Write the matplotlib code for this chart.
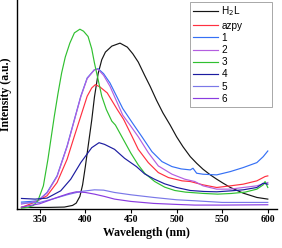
import matplotlib
matplotlib.use("Agg")
import matplotlib.pyplot as plt

# emission spectra (wavelength in nm, intensity in a.u.)
wl_h2l = [330, 360, 377, 386, 390, 394, 397, 400, 403, 407, 410, 414, 418, 422, 429, 438, 446, 452,
          458, 465, 471, 478, 485, 493, 500, 507, 515, 522, 529, 537, 544, 551, 559, 573, 588, 600]
h2l = [2, 2, 3, 8, 15, 35, 70, 125, 185, 265, 335, 405, 447, 470, 488, 497, 485, 465,
       440, 400, 367, 325, 287, 250, 215, 185, 155, 135, 117, 100, 87, 75, 62, 45, 32, 27]

wl_azpy = [330, 344, 358, 369, 380, 388, 395, 402, 407, 411, 416, 424, 435, 442, 451, 458, 469, 480,
           491, 506, 515, 529, 544, 559, 573, 588, 597, 600]
azpy = [2, 17, 37, 77, 147, 217, 277, 337, 362, 372, 365, 347, 297, 267, 217, 177, 137, 107,
        92, 82, 80, 70, 62, 67, 72, 82, 95, 97]

wl_1 = [330, 340, 348, 358, 369, 380, 388, 395, 402, 410, 414, 420, 427, 441, 452, 462, 473, 484,
        495, 505, 515, 518, 522, 529, 544, 559, 573, 588, 595, 600]
c1 = [18, 20, 22, 47, 97, 187, 267, 337, 392, 417, 420, 405, 377, 300, 255, 215, 170, 140,
      125, 118, 115, 120, 105, 102, 100, 110, 122, 137, 155, 172]

wl_2 = [330, 340, 348, 358, 369, 380, 388, 395, 402, 410, 414, 420, 427, 441, 449, 458, 469, 480,
        495, 509, 520, 529, 544, 559, 573, 588, 600]
c2 = [12, 17, 22, 45, 95, 185, 265, 335, 390, 417, 418, 400, 367, 280, 250, 215, 167, 127,
      102, 87, 80, 67, 57, 57, 62, 67, 77]

wl_3 = [330, 337, 343, 348, 354, 359, 366, 370, 374, 378, 383, 388, 394, 398, 403, 407, 410, 414,
        418, 423, 429, 433, 441, 450, 458, 465, 476, 487, 498, 510, 530, 545, 560, 575, 588, 595, 597, 600]
c3 = [0, 2, 8, 22, 67, 147, 277, 345, 407, 455, 497, 528, 539, 533, 517, 480, 437, 387,
      337, 297, 262, 250, 210, 165, 130, 105, 80, 63, 53, 48, 44, 42, 44, 48, 57, 70, 80, 62]

wl_4 = [330, 345, 358, 373, 384, 395, 407, 415, 421, 432, 443, 456, 465, 475, 487, 500, 515, 530,
        544, 560, 573, 588, 595, 600]
c4 = [29, 27, 30, 52, 87, 137, 182, 197, 192, 177, 150, 125, 103, 88, 73, 62, 53, 50,
      49, 52, 55, 62, 75, 72]

wl_5 = [330, 350, 365, 380, 395, 410, 420, 432, 450, 475, 500, 520, 550, 600]
c5 = [15, 17, 28, 40, 50, 55, 54, 47, 40, 32, 25, 22, 17, 17]

wl_6 = [330, 350, 370, 382, 390, 400, 410, 421, 432, 450, 475, 500, 520, 550, 600]
c6 = [3, 13, 33, 44, 49, 47, 42, 35, 27, 20, 14, 11, 9, 9, 10]

labels = ["H$_2$L", "azpy", "1", "2", "3", "4", "5", "6"]
colors = ["#151515", "#ff3040", "#3570f5", "#b45ee0", "#30c030", "#1c1ca0", "#7a78e8", "#8a3ce0"]
series = [(wl_h2l, h2l), (wl_azpy, azpy), (wl_1, c1), (wl_2, c2),
          (wl_3, c3), (wl_4, c4), (wl_5, c5), (wl_6, c6)]

fig = plt.figure(figsize=(2.82, 2.48), dpi=100)
ax = fig.add_axes([0.06, 0.157, 0.922, 0.843])

for (x, y), lab, col in zip(series, labels, colors):
    ax.plot(x, y, color=col, lw=0.85, label=lab)

ax.set_xlim(325, 610)
ax.set_ylim(-3, 627)
ax.set_xticks([350, 400, 450, 500, 550, 600])
ax.set_yticks([])
for s in ["top", "right"]:
    ax.spines[s].set_visible(False)
ax.spines["left"].set_linewidth(1.0)
ax.spines["bottom"].set_linewidth(1.0)
ax.tick_params(axis="x", direction="out", length=3, width=0.8, pad=1.5)
for t in ax.get_xticklabels():
    t.set_fontfamily("Liberation Serif")
    t.set_fontweight("bold")
    t.set_fontsize(7)

ax.set_xlabel("Wavelength (nm)", fontfamily="Liberation Serif", fontweight="bold", fontsize=8.5, labelpad=2)
ax.set_ylabel("Intensity (a.u.)", fontfamily="Liberation Serif", fontweight="bold", fontsize=8.5)
ax.yaxis.set_label_coords(-0.018, 0.55)

# wide Origin-style legend box
leg = ax.legend(loc="upper left", bbox_to_anchor=(0.665, 0.5, 0.316, 0.492), mode="expand",
                prop={"family": "Liberation Sans", "size": 7.2},
                frameon=True, fancybox=False, edgecolor="#808080", handlelength=2.5,
                handletextpad=0.35, labelspacing=0.22, borderpad=0.3, borderaxespad=0.0)
leg.get_frame().set_linewidth(0.6)

fig.savefig("out.png", dpi=100)
